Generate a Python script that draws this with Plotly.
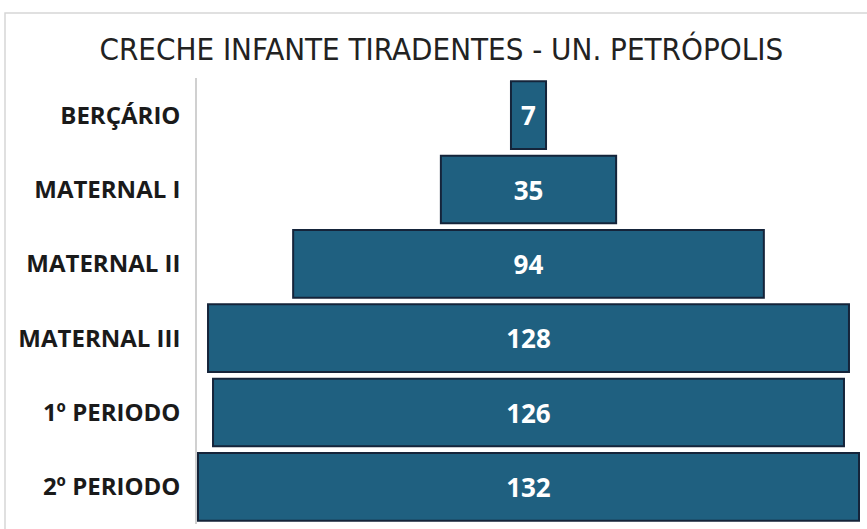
import plotly.graph_objects as go

categories = ["BERÇÁRIO", "MATERNAL I", "MATERNAL II", "MATERNAL III", "1º PERIODO", "2º PERIODO"]
values = [7, 35, 94, 128, 126, 132]
title_text = "CRECHE INFANTE TIRADENTES - UN. PETRÓPOLIS"

W, H = 867, 529
ML, MR, MT, MB = 197, 7, 78, 5

fig = go.Figure(go.Funnel(
    y=categories,
    x=values,
    textinfo="value",
    texttemplate="<b>%{value}</b>",
    textposition="inside",
    insidetextanchor="middle",
    textfont=dict(color="white", size=26, family="Open Sans"),
    marker=dict(color="#1F6080", line=dict(color="#15243a", width=2)),
    connector=dict(visible=False),
))

pw = W - ML - MR
ph = H - MT - MB
fig.add_shape(type="rect", xref="paper", yref="paper",
              x0=(5 - ML) / pw, x1=(W + 10 - ML) / pw,
              y0=-0.2, y1=(H - MB - 13) / ph,
              line=dict(color="#d6d6d6", width=1.5), fillcolor="rgba(0,0,0,0)", layer="below")

maxv = max(values)
fig.update_layout(
    width=W, height=H,
    margin=dict(l=ML, r=MR, t=MT, b=MB, autoexpand=False),
    paper_bgcolor="white", plot_bgcolor="white",
    funnelgap=0.09,
    showlegend=False,
    title=dict(text=title_text, xref="container", yref="container",
               x=0.509, xanchor="center", y=1 - 49 / H, yanchor="middle",
               font=dict(family="DejaVu Sans Condensed, Liberation Sans Narrow, Liberation Sans", size=31, color="#222222")),
    xaxis=dict(visible=False, automargin=False, range=[-maxv / 2 - 0.2, maxv / 2 + 0.2]),
    yaxis=dict(showline=True, automargin=False, linecolor="#d0d0d0", linewidth=1.5, ticks="",
               ticklabelstandoff=10, showgrid=False,
               tickfont=dict(family="Open Sans", size=24, color="#1a1a1a", weight="bold")),
)

fig.write_html("out.html",
               config={"displayModeBar": False},
               post_script="document.body.style.margin='0';document.body.style.overflow='hidden';")
